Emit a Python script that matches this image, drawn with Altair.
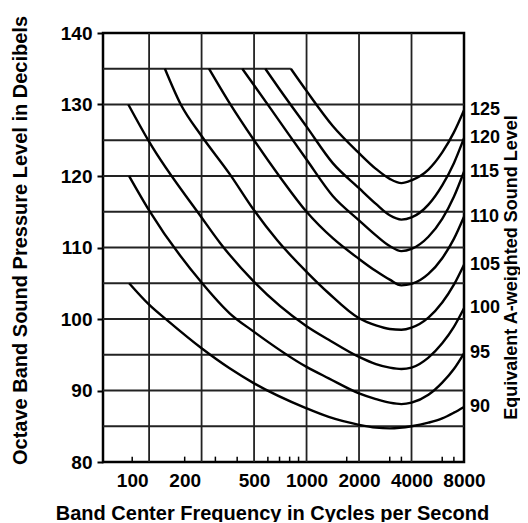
import altair as alt
import pandas as pd

# ---------------- data ----------------
levels = [90, 95, 100, 105, 110, 115, 120, 125]

f90 = [96, 125, 159, 250, 362, 500, 1000, 1340, 2000, 2500, 3000, 4000, 5000, 6000, 7000, 8000]
d90 = [105, 102, 99.8, 95.9, 93.1, 91.0, 87.5, 86.3, 85.2, 84.8, 84.7, 85.0, 85.5, 86.1, 86.9, 87.7]

f95 = [96, 125, 250, 362, 500, 1000, 1340, 2000, 2500, 3000, 3500, 4000, 5000, 6000, 7000, 8000]
d95 = [120, 115.2, 105.1, 100.8, 98.2, 93.3, 91.7, 89.6, 88.8, 88.3, 88.1, 88.3, 89.4, 91.1, 93.0, 95.2]

f100 = [95, 125, 250, 320, 500, 1000, 1340, 2000, 2500, 3000, 3500, 4000, 5000, 6000, 7000, 8000]
d100 = [130, 124.8, 114.2, 110.6, 105.2, 99.0, 97.1, 94.7, 93.7, 93.2, 93.0, 93.2, 94.6, 96.6, 98.9, 101.5]

f105 = [154, 190, 250, 362, 500, 679, 1000, 1340, 2000, 2500, 3000, 3500, 4000, 5000, 6000, 7000, 8000]
d105 = [135, 130, 125.6, 120.3, 115.2, 111.0, 106.6, 103.6, 100.1, 99.1, 98.6, 98.5, 98.8, 100.2, 102.3, 104.8, 107.6]

f110 = [276, 362, 500, 707, 1000, 1414, 2000, 2500, 3000, 3500, 4000, 5000, 6000, 7000, 8000]
d110 = [135, 130.2, 125.0, 119.8, 115.0, 111.3, 108.4, 106.7, 105.5, 104.7, 104.9, 106.3, 108.5, 111.2, 114.3]

f115 = [428, 500, 707, 1000, 1414, 2000, 2500, 3000, 3500, 4000, 5000, 6000, 7000, 8000]
d115 = [135, 132.7, 127.5, 122.3, 117.2, 113.8, 111.7, 110.2, 109.5, 109.8, 111.5, 114.0, 117.1, 120.6]

f120 = [580, 707, 1000, 1414, 2000, 2500, 3000, 3500, 4000, 5000, 6000, 7000, 8000]
d120 = [135, 132.0, 126.9, 121.8, 118.3, 116.1, 114.5, 113.9, 114.2, 116.0, 118.7, 121.8, 125.3]

f125 = [813, 1000, 1414, 2000, 2500, 3000, 3500, 4000, 5000, 6000, 7000, 8000]
d125 = [135, 131.9, 127.0, 123.2, 121.0, 119.6, 119.0, 119.4, 120.9, 123.3, 126.1, 129.2]

curve_freqs = [f90, f95, f100, f105, f110, f115, f120, f125]
curve_dbs = [d90, d95, d100, d105, d110, d115, d120, d125]

vgrid_freqs = [125, 250, 500, 1000, 2000, 4000]
hgrid_db = [85, 90, 95, 100, 105, 110, 115, 120, 125, 130]
top_segment_db = 135
top_segment_end = 813
minor_tick_freqs = [100, 200, 300, 400, 600, 700, 800, 900, 1700, 3000, 3500, 6000, 7000]
x_label_values = [100, 200, 500, 1000, 2000, 4000, 8000]
y_tick_values = [80, 85, 90, 95, 100, 105, 110, 115, 120, 125, 130, 135, 140]

x_min, x_max = 68, 8000
y_min, y_max = 80, 140

# ---------------- tables ----------------
rows = []
for lv, fs, ds in zip(levels, curve_freqs, curve_dbs):
    for i, (f, d) in enumerate(zip(fs, ds)):
        rows.append({"level": lv, "freq": f, "db": d, "order": i})
curves = pd.DataFrame(rows)

labels = pd.DataFrame({
    "level": levels,
    "freq": [fs[-1] for fs in curve_freqs],
    "db": [ds[-1] for ds in curve_dbs],
    "text": [str(v) for v in levels],
})

hgrid = pd.DataFrame({"db": hgrid_db + [top_segment_db],
                      "x1": [x_min] * len(hgrid_db) + [x_min],
                      "x2": [x_max] * len(hgrid_db) + [top_segment_end]})
vgrid = pd.DataFrame({"freq": vgrid_freqs, "y1": [y_min] * len(vgrid_freqs), "y2": [y_max] * len(vgrid_freqs)})
minor = pd.DataFrame({"freq": minor_tick_freqs, "y1": [y_min] * len(minor_tick_freqs),
                      "y2": [y_min + 0.75] * len(minor_tick_freqs)})

FONT = "Liberation Sans"
xscale = alt.Scale(type="log", domain=[x_min, x_max], nice=False)
yscale = alt.Scale(domain=[y_min, y_max], nice=False, zero=False)

x_axis = alt.Axis(values=x_label_values, format="d", ticks=False, tickSize=0, grid=False, domain=False,
                  labelPadding=9, labelFontSize=19, labelFontWeight="bold", labelFont=FONT,
                  labelColor="black", labelFlush=False,
                  title="Band Center Frequency in Cycles per Second", titleFontSize=20,
                  titleFontWeight="bold", titleFont=FONT, titleColor="black",
                  titleX=169, titleY=51, titleBaseline="middle", titleAlign="center")

y_axis = alt.Axis(values=y_tick_values, labelExpr="datum.value % 10 == 0 ? datum.label : ''",
                  tickSize=6, tickWidth=2, tickColor="black", grid=False, domain=False,
                  labelPadding=5, labelFontSize=19, labelFontWeight="bold", labelFont=FONT,
                  labelColor="black", labelFlush=False,
                  title="Octave Band Sound Pressure Level in Decibels", titleFontSize=20,
                  titleFontWeight="bold", titleFont=FONT, titleColor="black",
                  titleAngle=270, titleX=-83, titleY=207, titleAlign="center", titleBaseline="middle")

y_axis_right = alt.Axis(orient="right", labels=False, ticks=False, grid=False, domain=False,
                        title="Equivalent A-weighted Sound Level", titleFontSize=18,
                        titleFontWeight="bold", titleFont=FONT, titleColor="black",
                        titleAngle=270, titleX=52, titleY=234, titleAlign="center",
                        titleBaseline="alphabetic")

hg = alt.Chart(hgrid).mark_rule(color="#222", strokeWidth=1.8).encode(
    x=alt.X("x1:Q", scale=xscale, axis=x_axis),
    x2="x2:Q",
    y=alt.Y("db:Q", scale=yscale, axis=y_axis),
)
vg = alt.Chart(vgrid).mark_rule(color="#222", strokeWidth=1.8).encode(
    x=alt.X("freq:Q", scale=xscale),
    y=alt.Y("y1:Q", scale=yscale),
    y2="y2:Q",
)
mt = alt.Chart(minor).mark_rule(color="black", strokeWidth=1.5).encode(
    x=alt.X("freq:Q", scale=xscale),
    y=alt.Y("y1:Q", scale=yscale),
    y2="y2:Q",
)
lines = alt.Chart(curves).mark_line(color="black", strokeWidth=2.4, interpolate="monotone").encode(
    x=alt.X("freq:Q", scale=xscale),
    y=alt.Y("db:Q", scale=yscale),
    detail="level:N",
    order="order:Q",
)
left_layer = alt.layer(hg, vg, mt, lines)

lab = alt.Chart(labels).mark_text(align="left", baseline="middle", dx=6, fontSize=18,
                                  fontWeight="bold", font=FONT, color="black").encode(
    x=alt.X("freq:Q", scale=xscale),
    y=alt.Y("db:Q", scale=yscale, axis=y_axis_right),
    text="text:N",
)

chart = alt.layer(left_layer, lab).resolve_scale(y="independent").properties(
    width=361, height=429,
    autosize=alt.AutoSizeParams(type="none"),
    padding={"left": 95, "top": 25, "right": 56, "bottom": 60},
).configure_view(stroke="black", strokeWidth=2.5)

chart.save("out.html", embed_options={"renderer": "svg", "actions": False})
